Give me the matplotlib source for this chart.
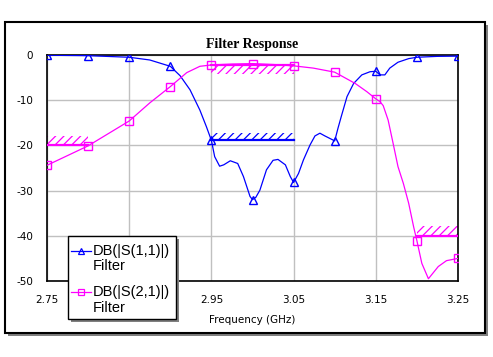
import matplotlib
matplotlib.use("Agg")
import matplotlib.pyplot as plt
from matplotlib.patches import Rectangle
from matplotlib.lines import Line2D
import numpy as np

# ---- data ----
s11_freq = [2.75, 2.80, 2.85, 2.875, 2.90, 2.912, 2.924, 2.936, 2.944, 2.950, 2.954,
            2.960, 2.965, 2.973, 2.982, 2.989, 2.997, 3.000, 3.004, 3.009, 3.017,
            3.025, 3.031, 3.040, 3.046, 3.050, 3.056, 3.062, 3.070, 3.076, 3.082,
            3.088, 3.100, 3.104, 3.108, 3.115, 3.123, 3.133, 3.143, 3.150, 3.155,
            3.161, 3.167, 3.177, 3.190, 3.200, 3.225, 3.25]
s11_db = [-0.05, -0.15, -0.5, -1.1, -2.5, -4.6, -7.7, -12.2, -15.9, -18.9, -22.5,
          -24.6, -24.3, -23.4, -24.0, -26.9, -31.3, -32.0, -31.5, -29.9, -25.4,
          -23.3, -23.1, -24.3, -26.9, -28.2, -26.2, -23.2, -19.9, -17.9, -17.3,
          -17.9, -19.0, -16.2, -13.6, -9.2, -6.3, -4.4, -3.7, -3.6, -4.4,
          -4.4, -2.9, -1.6, -0.8, -0.5, -0.3, -0.25]

s21_freq = [2.75, 2.80, 2.85, 2.875, 2.90, 2.92, 2.936, 2.95, 2.975, 3.00, 3.025,
            3.05, 3.074, 3.10, 3.11, 3.125, 3.139, 3.150, 3.155, 3.159, 3.165,
            3.171, 3.177, 3.1835, 3.19, 3.196, 3.20, 3.206, 3.214, 3.226, 3.236, 3.25]
s21_db = [-24.4, -20.1, -14.6, -10.6, -7.0, -3.9, -2.5, -2.2, -2.0, -1.9, -2.1,
          -2.4, -2.9, -3.8, -4.8, -6.3, -8.1, -9.7, -10.3, -11.2, -14.4,
          -19.5, -24.7, -28.4, -32.8, -38.0, -41.1, -46.1, -49.5, -46.8, -45.5, -45.0]

marker_freq = [2.75, 2.80, 2.85, 2.90, 2.95, 3.00, 3.05, 3.10, 3.15, 3.20, 3.25]

# goal specs: (f_start, f_stop, level, hatch extent)
spec_s11 = [(2.95, 3.05, -18.8, 1.5)]
spec_s21 = [(2.75, 2.80, -20.0, 2.0), (2.95, 3.05, -2.2, -2.0), (3.20, 3.25, -40.0, 2.2)]

xticks = [2.75, 2.85, 2.95, 3.05, 3.15, 3.25]
xtick_labels = ["2.75", "2.85", "2.95", "3.05", "3.15", "3.25"]
yticks = [0, -10, -20, -30, -40, -50]
ytick_labels = ["0", "-10", "-20", "-30", "-40", "-50"]

legend_lines = [["DB(|S(1,1)|)", "Filter"], ["DB(|S(2,1)|)", "Filter"]]

BLUE = "#0000ff"
PINK = "#ff00ff"

plt.rcParams['hatch.linewidth'] = 0.9
W, H = 493, 357
fig = plt.figure(figsize=(W / 100, H / 100), dpi=100)
fig.patch.set_facecolor("white")

def fx(px):
    return px / W

def fy(py):
    return 1 - py / H

# background frame axes (below main axes)
bg = fig.add_axes([0, 0, 1, 1], zorder=0)
bg.set_xlim(0, W)
bg.set_ylim(H, 0)
bg.axis("off")
bg.add_patch(Rectangle((8, 25), 480, 311, facecolor="#808080", edgecolor="none", zorder=1))
bg.add_patch(Rectangle((5, 22), 480, 311, facecolor="white", edgecolor="black", lw=1.5, zorder=2))

ax = fig.add_axes([fx(47), fy(281), fx(458) - fx(47), fy(55) - fy(281)], zorder=1)
ax.set_xlim(2.75, 3.25)
ax.set_ylim(-50, 0)
ax.set_xticks(xticks)
ax.set_xticklabels(xtick_labels)
ax.set_yticks(yticks)
ax.set_yticklabels(ytick_labels)
ax.tick_params(length=0, labelsize=7.5, pad=10)
ax.grid(True, color="#c0c0c0", linewidth=1.0)
ax.set_axisbelow(True)
for s in ax.spines.values():
    s.set_color("black")
    s.set_linewidth(1.2)
ax.set_xlabel("Frequency (GHz)", fontsize=7.5, labelpad=7)
ax.set_title("Filter Response", fontsize=10, fontweight="bold",
             family="Liberation Serif", pad=5)

def draw_spec(specs, color):
    for f0, f1, lvl, ext in specs:
        y2 = lvl + ext
        ax.fill_between([f0, f1], [lvl, lvl], [y2, y2], hatch="////",
                        facecolor="none", edgecolor=color, linewidth=0, zorder=2)
        ax.plot([f0, f1], [lvl, lvl], color=color, lw=1.6, zorder=3)

draw_spec(spec_s11, BLUE)
draw_spec(spec_s21, PINK)

ax.plot(s11_freq, s11_db, color=BLUE, lw=0.9, zorder=4)
ax.plot(s21_freq, s21_db, color=PINK, lw=0.9, zorder=4)

m11 = np.interp(marker_freq, s11_freq, s11_db)
m21 = np.interp(marker_freq, s21_freq, s21_db)
ax.plot(marker_freq, m11, linestyle="none", marker="^", ms=6, mfc="none",
        mec=BLUE, mew=1.0, zorder=5)
ax.plot(marker_freq, m21, linestyle="none", marker="s", ms=6, mfc="none",
        mec=PINK, mew=1.0, zorder=5)

# overlay legend in pixel coords
ov = fig.add_axes([0, 0, 1, 1], zorder=10)
ov.set_xlim(0, W)
ov.set_ylim(H, 0)
ov.axis("off")
ov.add_patch(Rectangle((71, 239), 108, 83, facecolor="#808080", edgecolor="none", zorder=3))
ov.add_patch(Rectangle((68, 236), 108, 83, facecolor="white", edgecolor="black", lw=1.0, zorder=4))
leg_rows = [(BLUE, "^", 250.7, 266.0, legend_lines[0]), (PINK, "s", 291.7, 307.7, legend_lines[1])]
for col, mk, y1, y2, lab in leg_rows:
    ov.add_line(Line2D([71, 91], [y1, y1], color=col, lw=0.9, zorder=5))
    ov.add_line(Line2D([81], [y1], color=col, marker=mk, ms=5, mfc="none",
                       mec=col, mew=0.9, zorder=5))
    ov.text(93, y1, lab[0], fontsize=10.5, va="center", ha="left", zorder=6,
            family="Liberation Sans")
    ov.text(93, y2, lab[1], fontsize=10.5, va="center", ha="left", zorder=6,
            family="Liberation Sans")

fig.savefig("out.png", dpi=100, facecolor="white")
